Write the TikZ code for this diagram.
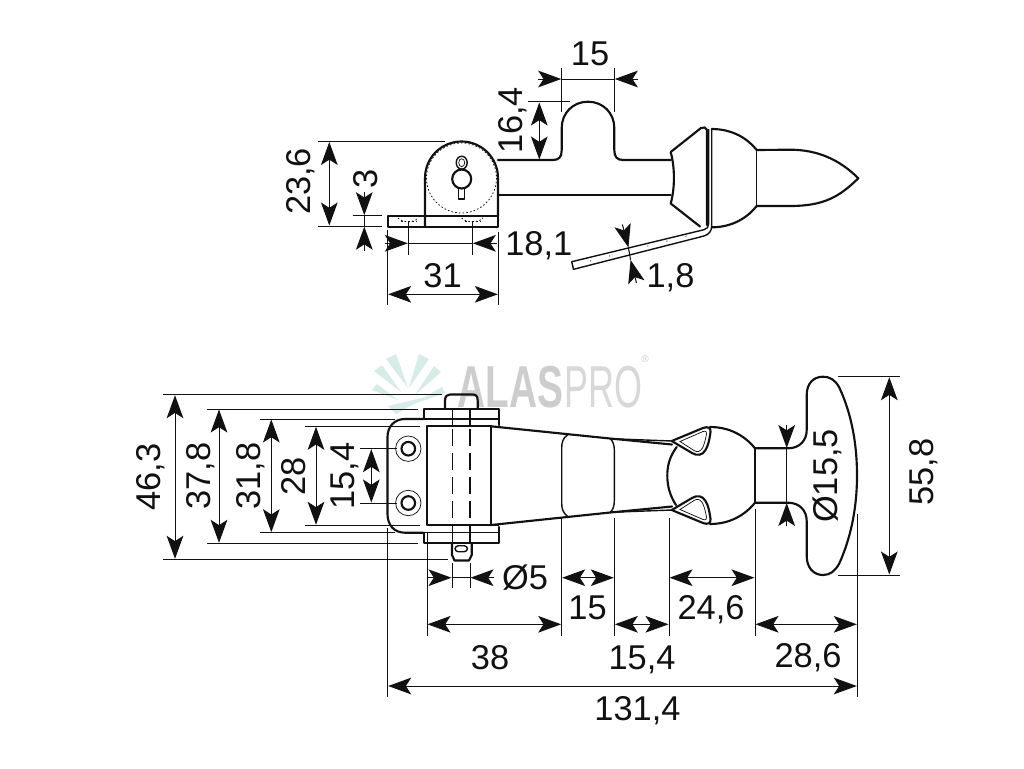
\documentclass[tikz,border=0pt]{standalone}
\usepackage{fontspec}
\setmainfont{Liberation Sans}
\usetikzlibrary{arrows.meta}
\definecolor{ink}{HTML}{111111}
\definecolor{leaf}{HTML}{D6ECE9}
\definecolor{logoA}{HTML}{CDCDCD}
\definecolor{logoB}{HTML}{D8D8D8}
\tikzset{
  outline/.style={draw=ink,line width=1.6pt,line join=round,line cap=round},
  midline/.style={draw=ink,line width=1.05pt,line join=round},
  fine/.style={draw=ink,line width=0.55pt},
  dimline/.style={draw=ink,line width=0.75pt},
  dots/.style={draw=ink,line width=0.6pt,dash pattern=on 1.2pt off 1.6pt},
  dashes/.style={draw=ink,line width=0.8pt,dash pattern=on 12.5pt off 5.5pt},
  both/.style={dimline,{Stealth[length=17.25pt,width=12.5pt,inset=4pt]}-{Stealth[length=17.25pt,width=12.5pt,inset=4pt]}},
  tip/.style={dimline,-{Stealth[length=17.25pt,width=12.5pt,inset=4pt]}},
  label/.style={font=\fontsize{25.8}{26}\selectfont,text=ink,inner sep=0pt,text height=18.5pt,text depth=0pt,anchor=center},
  vlabel/.style={label,rotate=90},
}
\begin{document}
\begin{tikzpicture}[x=0.75pt,y=-0.75pt]
\useasboundingbox (0,0) rectangle (1024,768);
\fill[white] (0,0) rectangle (1024,768);

% ---------- logo ----------
\fill[leaf] (386,359) -- (396,354) -- (408,388) -- cycle;
\fill[leaf] (419,354) -- (429,359) -- (409,388) -- cycle;
\fill[leaf] (374,371) -- (382,365) -- (401,392) -- cycle;
\fill[leaf] (434,366) -- (441,372) -- (415,395) -- cycle;
\fill[leaf] (372,390) -- (377,384) -- (398,400) -- cycle;
\fill[leaf] (442,387) -- (445,393) -- (411,405) -- cycle;
\fill[leaf] (388,406) -- (426,397) -- (396,414) -- cycle;
\node[anchor=base west,inner sep=0pt,text=logoA] (logoa) at (457,407)
  {\scalebox{0.67}[1.02]{\fontsize{43.5}{43.5}\selectfont\bfseries ALAS}};
\node[anchor=base west,inner sep=0pt,text=logoB] (logob) at (564,407)
  {\scalebox{0.62}[1.02]{\fontsize{43.5}{43.5}\selectfont PRO}};
\node[inner sep=0pt,text=logoA,font=\fontsize{7.5}{7.5}\selectfont] (logor) at (645,359) {®};

% ---------- side view: bracket ----------
\draw[outline] (387.7,215.7) rectangle (498,226.7);
\draw[outline] (425,226.7) -- (425,178) .. controls (425,157.8) and (441.3,141.5) .. (461.5,141.5)
  .. controls (481.7,141.5) and (498,157.8) .. (498,178) -- (498,215.7);
\draw[dots] (461.5,178) circle[radius=35];
\draw[dots] (398,218) .. controls (402,223) and (414,223) .. (418,218);
\draw[dots] (401,221) -- (416,221);
\draw[dots] (461.7,218) .. controls (466,223) and (479,223) .. (483,218);
\draw[dots] (465,221) -- (480,221);
\draw[outline] (461.7,179) circle[radius=9.5];
\draw[midline] (461.7,162.7) ellipse[x radius=5.5,y radius=6.5];
\draw[fine] (461.7,162.7) ellipse[x radius=3,y radius=4];
\draw[midline] (458.3,189) -- (458.3,199) -- (464.3,199) -- (464.3,189);

% ---------- side view: lever ----------
\draw[outline] (498,160) -- (553,160) .. controls (559,160) and (561.7,157) .. (561.7,150)
  -- (561.7,128) .. controls (561.7,113) and (573,101.7) .. (588,101.7)
  .. controls (603,101.7) and (614.3,113) .. (614.3,128) -- (614.3,150)
  .. controls (614.3,157) and (617,160) .. (623,160) -- (670.7,160);
\draw[outline] (498,195) -- (670.7,195);
\draw[outline] (670.7,152) -- (701,128) .. controls (703,126.5) and (706.5,127.5) .. (707,130)
  -- (707,225) (700,226.5) -- (670.7,203.5) (670.7,152) .. controls (675,168) and (675,188) .. (670.7,203.5);
\draw[outline] (711.7,129) .. controls (733,129) and (748,139) .. (756.7,150);
\draw[outline] (711.7,227.3) .. controls (733,227.3) and (748,217) .. (756.7,206);
\draw[midline] (756.7,150) -- (756.7,206);
\draw[outline] (756.7,150) -- (790,149.7) .. controls (818,149.7) and (840,160) .. (858.3,178.3)
  .. controls (840,196) and (825,206) .. (790,206) -- (756.7,206);
\draw[midline] (708.6,129) -- (708.6,224) .. controls (708.6,227) and (707,229) .. (704,229.7)
  -- (571.7,261.7) -- (573.5,269.3) -- (704,236) .. controls (709,234.5) and (711.7,231) .. (711.7,226) -- (711.7,129);
\draw[fine,dash pattern=on 0.8pt off 14pt] (590,261) -- (700,232.5);

% ---------- side view: dimensions ----------
\draw[dimline] (561.7,67.7) -- (561.7,111.7) (614.3,67.7) -- (614.3,111.7);
\draw[dimline] (561.7,79) -- (614.3,79);
\draw[tip] (538,79) -- (561.2,79);
\draw[tip] (638,79) -- (614.8,79);
\node[label] (d15a) at (590,53) {15};
\draw[dimline] (528,101.7) -- (570,101.7);
\draw[both] (539.3,102.5) -- (539.3,159.5);
\node[vlabel] (d164) at (510,120.5) {16,4};
\draw[dimline] (318,141.3) -- (445,141.3) (318,226) -- (382,226);
\draw[both] (329.3,142) -- (329.3,225.5);
\node[vlabel] (d236) at (298.5,181.5) {23,6};
\draw[dimline] (352.7,215.7) -- (382,215.7);
\draw[dimline] (364.3,215.7) -- (364.3,226);
\draw[tip] (364.3,191.7) -- (364.3,215.2);
\draw[tip] (364.3,250.7) -- (364.3,226.7);
\node[vlabel] (d3) at (365,178.5) {3};
\draw[dimline] (408.3,222) -- (408.3,255) (472.3,222) -- (472.3,255) (408.3,243.3) -- (472.3,243.3);
\draw[tip] (385,243.3) -- (407.8,243.3);
\draw[tip] (496.7,243.3) -- (472.8,243.3);
\node[label,anchor=west] (d181) at (505,243.5) {18,1};
\draw[dimline] (387.7,230) -- (387.7,305) (498.3,232) -- (498.3,305);
\draw[both] (388.2,294.3) -- (497.8,294.3);
\node[label] (d31) at (442.5,275) {31};
\draw[dimline] (628.4,247.5) -- (630.6,260);
\draw[tip] (622.4,224.5) -- (628.4,247.5);
\draw[tip] (636.5,283) -- (630.6,260);
\node[label] (d18) at (670.5,275) {1,8};

% ---------- plan view: plate and bracket ----------
\draw[outline] (423,419) -- (405,419) .. controls (394,419) and (387.5,427) .. (387.5,437)
  -- (387.5,514) .. controls (387.5,525) and (394,532.7) .. (405,532.7) -- (423,532.7);
\draw[fine] (408.3,448.7) circle[radius=12.7] (408.3,503) circle[radius=12.7];
\draw[outline] (408.3,448.7) circle[radius=6.8] (408.3,503) circle[radius=6.8];
\draw[outline] (424,419) -- (424,409) -- (499,409) -- (499,425);
\draw[midline] (424,419) -- (499,419);
\draw[outline] (491,426.3) -- (426.7,426.3) -- (426.7,525) -- (491,525);
\draw[midline] (491,426.3) -- (491,525);
\draw[midline] (491,426.3) -- (499,426.3) (491,525) -- (499,525);
\draw[outline] (424,532.7) -- (424,543.3) -- (499,543.3) -- (499,527);
\draw[midline] (424,532.7) -- (499,532.7);
\draw[midline] (452.3,409) -- (452.3,426.3) (470,409) -- (470,426.3) (452.3,525) -- (452.3,543.3) (470,525) -- (470,543.3);
\draw[dashes] (452.3,429) -- (452.3,522) (470,429) -- (470,522);
\draw[outline] (445,409) -- (445,401) .. controls (445,396) and (447,394.5) .. (450,394.5)
  -- (472.5,394.5) .. controls (476,394.5) and (477.7,396) .. (477.7,401) -- (477.7,409);
\draw[outline] (452,543.3) -- (452,555) -- (454.5,560.5) -- (469,560.5) -- (471.7,555) -- (471.7,543.3);
\draw[midline,rounded corners=2.5pt] (455,545.7) rectangle (467.5,551.7);

% ---------- plan view: body ----------
\draw[outline] (491,426.3) -- (613,438.8) -- (672,444.5);
\draw[outline] (491,525) -- (613,512.2) -- (672,506.5);
\draw[midline] (613,438.8) -- (672,441);
\draw[midline] (613,512.2) -- (672,510);
\draw[midline] (568,434.5) .. controls (563,438) and (561.7,442) .. (561.7,448) -- (561.7,503)
  .. controls (561.7,509) and (563,513) .. (568,516.8);
\draw[midline] (610,438.5) .. controls (613,441) and (614.3,445) .. (614.3,450) -- (614.3,501)
  .. controls (614.3,506) and (613,510) .. (610,512.5);

% ---------- plan view: head ----------
\draw[outline] (676.7,447) .. controls (670,456) and (667.3,465) .. (667.3,475.5)
  .. controls (667.3,486) and (670,496) .. (676,505);
\draw[outline] (710,427) .. controls (730,427) and (745,436) .. (755,448.3);
\draw[outline] (710,524) .. controls (730,524) and (745,515) .. (755,502.7);
\draw[outline,fill=white] (671.7,441) -- (703,428) .. controls (708,426) and (711,428) .. (710.5,432)
  .. controls (709.5,440) and (708,446) .. (705.5,450) .. controls (702.5,455.5) and (697,456) .. (692,453) -- cycle;
\draw[fine] (680,441.5) -- (703,431.5) .. controls (706,430.5) and (707,432) .. (706.5,434)
  .. controls (705.5,440) and (704,445) .. (702.5,448) .. controls (700,452) and (697,452.5) .. (694,450.5) -- cycle;
\draw[outline,fill=white] (671.7,510) -- (692,498) .. controls (697,495) and (702.5,495.5) .. (705.5,501)
  .. controls (708,505) and (709.5,511) .. (710.5,519) .. controls (711,523) and (708,525) .. (703,523) -- cycle;
\draw[fine] (680,509.5) -- (694,500.5) .. controls (697,498.5) and (700,499) .. (702.5,503)
  .. controls (704,506) and (705.5,511) .. (706.5,517) .. controls (707,519) and (706,520.5) .. (703,519.5) -- cycle;
\draw[outline] (755,448.3) -- (755,502.7);
\draw[outline] (755,448.3) -- (788,448.3) .. controls (800,448.3) and (806.7,440) .. (806.7,430)
  -- (806.7,395) .. controls (806.7,384) and (813,376.7) .. (823,376.7)
  .. controls (830,376.7) and (835,380) .. (839,387) .. controls (850,410) and (857,440) .. (857,475.5)
  .. controls (857,510) and (850,540) .. (839,564) .. controls (835,571) and (830,575) .. (823,575)
  .. controls (813,575) and (806.7,567) .. (806.7,556) -- (806.7,521)
  .. controls (806.7,511) and (800,502.7) .. (788,502.7) -- (755,502.7);

% ---------- plan view: left dimensions ----------
\draw[dimline] (163.3,394.7) -- (442,394.7) (163.3,559.3) -- (448,559.3);
\draw[both] (175,395.2) -- (175,558.8);
\node[vlabel] (d463) at (148.5,477) {46,3};
\draw[dimline] (207.3,409) -- (418,409) (207.3,543.3) -- (418,543.3);
\draw[both] (219,409.5) -- (219,542.8);
\node[vlabel] (d378) at (198.5,476) {37,8};
\draw[dimline] (260,419) -- (395,419) (260,532.7) -- (395,532.7);
\draw[both] (271.3,419.5) -- (271.3,532.2);
\node[vlabel] (d318) at (248.5,476) {31,8};
\draw[dimline] (305,426.3) -- (420,426.3) (305,525.3) -- (420,525.3);
\draw[both] (316,426.8) -- (316,524.8);
\node[vlabel] (d28) at (293,476) {28};
\draw[dimline] (360,448.7) -- (397,448.7) (360,503) -- (397,503);
\draw[both] (371.3,449.2) -- (371.3,502.5);
\node[vlabel] (d154a) at (342.5,476) {15,4};

% ---------- plan view: lower dimensions ----------
\draw[dimline] (387.7,528) -- (387.7,696.7);
\draw[dimline] (427,533) -- (427,636);
\draw[dimline] (452,563) -- (452,588) (470,563) -- (470,588) (452,577.7) -- (470,577.7);
\draw[tip] (428,577.7) -- (451.5,577.7);
\draw[tip] (494,577.7) -- (470.5,577.7);
\node[label] (d5) at (525,577.5) {Ø5};
\draw[dimline] (561.7,518) -- (561.7,636) (614.3,518) -- (614.3,636) (669,518) -- (669,636) (755,509) -- (755,636);
\draw[both] (427.5,624.3) -- (561.2,624.3);
\node[label] (d38) at (490,656.7) {38};
\draw[both] (562.2,577.7) -- (613.8,577.7);
\node[label] (d15b) at (587.5,607) {15};
\draw[both] (614.8,624.3) -- (668.5,624.3);
\node[label] (d154b) at (642,656.7) {15,4};
\draw[both] (669.5,577.7) -- (754.5,577.7);
\node[label] (d246) at (711,607) {24,6};
\draw[both] (755.5,624.3) -- (856.8,624.3);
\node[label] (d286) at (808,655) {28,6};
\draw[dimline] (857.3,514) -- (857.3,697);
\draw[both] (388.2,686) -- (856.8,686);
\node[label] (d1314) at (637.5,708) {131,4};

% ---------- plan view: right dimensions ----------
\draw[dimline] (786.7,448.3) -- (786.7,502.7);
\draw[tip] (786.7,425) -- (786.7,448);
\draw[tip] (786.7,526) -- (786.7,503);
\node[vlabel] (d155) at (825.5,476) {Ø15,5};
\draw[dimline] (838,376.7) -- (900,376.7) (838,575) -- (900,575);
\draw[both] (889.3,377.2) -- (889.3,574.5);
\node[vlabel] (d558) at (921,472) {55,8};
\end{tikzpicture}
\end{document}
